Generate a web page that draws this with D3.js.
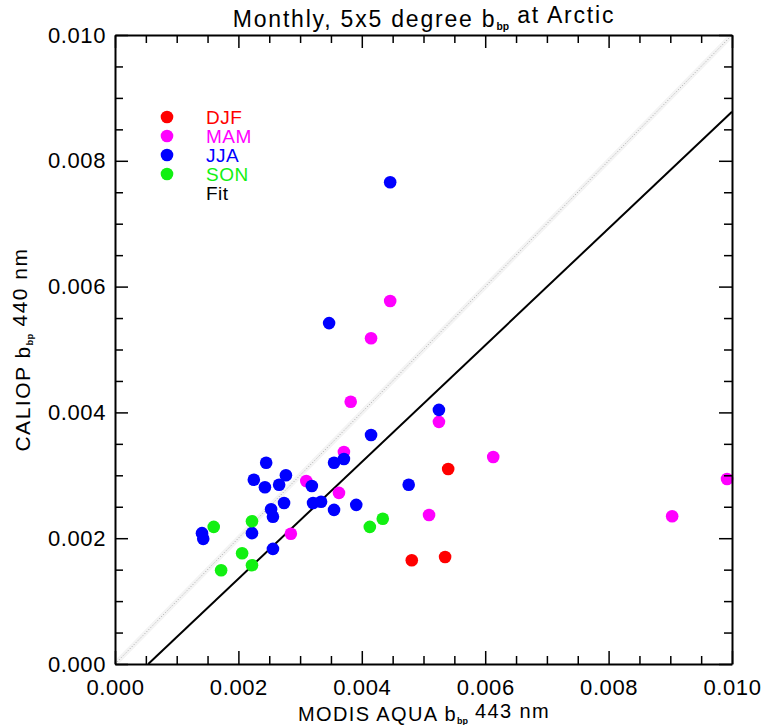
<!DOCTYPE html>
<html lang="en">
<head>
  <meta charset="UTF-8">
  <title>Monthly bbp Arctic</title>
  <script src="https://cdnjs.cloudflare.com/ajax/libs/d3/7.8.5/d3.min.js"></script>
  <style>
    body { margin: 0; background: #fff; }
    svg text { font-family: "Liberation Sans", Arial, sans-serif; }
    .frame path, .frame line { stroke: #000; }
  </style>
</head>
<body>
  <div id="graph"></div>
  <script>
    // seasonal points: [MODIS bbp 443, CALIOP bbp 440]
    var djf = [[0.00540, 0.00310], [0.00481, 0.00165], [0.00535, 0.00170]];
    var mam = [[0.00310, 0.00291], [0.00285, 0.00207], [0.00363, 0.00272], [0.00371, 0.00337],
               [0.00382, 0.00417], [0.00415, 0.00518], [0.00446, 0.00577], [0.00525, 0.00385],
               [0.00613, 0.00329], [0.00509, 0.00237], [0.00903, 0.00235], [0.00992, 0.00294]];
    var jja = [[0.00446, 0.00766], [0.00347, 0.00542], [0.00525, 0.00404], [0.00415, 0.00364],
               [0.00476, 0.00285], [0.00371, 0.00326], [0.00355, 0.00320], [0.00391, 0.00253],
               [0.00355, 0.00245], [0.00321, 0.00256], [0.00334, 0.00258], [0.00319, 0.00283],
               [0.00245, 0.00320], [0.00225, 0.00293], [0.00277, 0.00300], [0.00243, 0.00281],
               [0.00266, 0.00285], [0.00253, 0.00246], [0.00274, 0.00256], [0.00256, 0.00234],
               [0.00222, 0.00208], [0.00256, 0.00183], [0.00141, 0.00208], [0.00143, 0.00199]];
    var son = [[0.00160, 0.00218], [0.00222, 0.00227], [0.00206, 0.00176], [0.00172, 0.00149],
               [0.00222, 0.00157], [0.00413, 0.00218], [0.00434, 0.00231]];

    var seasons = ["DJF", "MAM", "JJA", "SON"];
    var seasonData = [djf, mam, jja, son];
    var seasonColors = ["#ff0000", "#ff00ff", "#0000ff", "#12f012"];

    // linear fit: caliop = slope * modis + offset
    var fitSlope = 0.928, fitOffset = -0.0005;

    var majorTicks = [0, 0.002, 0.004, 0.006, 0.008, 0.010];
    var minorTicks = d3.range(0, 0.01001, 0.0005).filter(function(v) {
      return Math.abs(v / 0.002 - Math.round(v / 0.002)) > 1e-6;
    });

    var margin = {top: 35, right: 33, bottom: 61, left: 115},
        width = 765 - margin.left - margin.right,
        height = 725 - margin.top - margin.bottom;

    var x = d3.scaleLinear().domain([0, 0.010]).range([0, width]);
    var y = d3.scaleLinear().domain([0, 0.010]).range([height, 0]);

    var svg = d3.select("#graph").append("svg")
        .attr("width", 765)
        .attr("height", 725);
    svg.append("rect").attr("width", 765).attr("height", 725).attr("fill", "#fff");

    var g = svg.append("g")
        .attr("transform", "translate(" + margin.left + "," + margin.top + ")");

    // 1:1 reference line
    g.append("line")
        .attr("x1", x(0)).attr("y1", y(0))
        .attr("x2", x(0.010)).attr("y2", y(0.010))
        .attr("stroke", "#f4f4f4").attr("stroke-width", 5);
    g.append("line")
        .attr("x1", x(0)).attr("y1", y(0))
        .attr("x2", x(0.010)).attr("y2", y(0.010))
        .attr("stroke", "#a8a8a8").attr("stroke-width", 1)
        .attr("stroke-dasharray", "1,2");

    // fit line, starting where it crosses zero
    var fitX0 = -fitOffset / fitSlope;
    g.append("line")
        .attr("x1", x(fitX0)).attr("y1", y(0))
        .attr("x2", x(0.010)).attr("y2", y(fitSlope * 0.010 + fitOffset))
        .attr("stroke", "#000").attr("stroke-width", 2);

    // points
    seasonData.forEach(function(data, i) {
      g.append("g").selectAll("circle")
        .data(data)
        .enter().append("circle")
          .attr("cx", function(d) { return x(d[0]); })
          .attr("cy", function(d) { return y(d[1]); })
          .attr("r", 6.3)
          .attr("fill", seasonColors[i]);
    });

    // axes on all four sides; negative tick sizes point the ticks inward
    function addAxis(axisFn, scale, tx, ty, padding) {
      var withLabels = padding > 0;
      var major = axisFn(scale).tickValues(majorTicks).tickSizeInner(-13).tickSizeOuter(0)
          .tickPadding(padding)
          .tickFormat(withLabels ? d3.format(".3f") : "");
      var minor = axisFn(scale).tickValues(minorTicks).tickSizeInner(-8).tickSizeOuter(0)
          .tickFormat("");
      var ax = g.append("g").attr("class", "frame")
          .attr("transform", "translate(" + tx + "," + ty + ")");
      ax.call(major);
      ax.append("g").call(minor).select(".domain").remove();
      ax.selectAll("line").attr("stroke-width", 1.5);
      ax.selectAll(".domain").attr("stroke-width", 2);
      ax.selectAll("text").attr("fill", "#000")
        .style("font-size", "22px").style("letter-spacing", "0.6px");
      return ax;
    }
    addAxis(d3.axisBottom, x, 0, height, 15);
    addAxis(d3.axisTop, x, 0, 0, 0);
    addAxis(d3.axisLeft, y, 0, 0, 9);
    addAxis(d3.axisRight, y, width, 0, 0);

    // text with a "bp" subscript
    function subText(sel, before, after, size) {
      sel.append("tspan").text(before);
      sel.append("tspan").text("bp")
          .attr("dy", "0.3em").style("letter-spacing", "0px")
          .style("font-size", (size * 0.45) + "px").style("font-weight", "bold");
      sel.append("tspan").text(after).attr("dy", "-0.3em");
      return sel;
    }

    subText(svg.append("text")
        .attr("x", 424).attr("y", 27)
        .attr("text-anchor", "middle")
        .style("font-size", "23px").style("letter-spacing", "1.8px"),
        "Monthly, 5x5 degree b", " at Arctic", 23);

    subText(svg.append("text")
        .attr("x", 424).attr("y", 721)
        .attr("text-anchor", "middle")
        .style("font-size", "20px").style("letter-spacing", "1.4px"),
        "MODIS AQUA b", " 443 nm", 20);

    subText(svg.append("text")
        .attr("transform", "translate(30," + (margin.top + height / 2) + ") rotate(-90)")
        .attr("text-anchor", "middle")
        .style("font-size", "21px").style("letter-spacing", "1.5px"),
        "CALIOP b", " 440 nm", 21);

    // legend
    var legendY = d3.scaleLinear().domain([0, 1]).range([117, 136]);
    var legendNames = seasons.concat(["Fit"]);
    var legendColors = seasonColors.concat(["#000"]);
    var legend = svg.append("g");
    seasons.forEach(function(name, i) {
      legend.append("circle")
        .attr("cx", 167).attr("cy", legendY(i)).attr("r", 6.3)
        .attr("fill", seasonColors[i]);
    });
    legendNames.forEach(function(name, i) {
      legend.append("text")
        .attr("x", 206).attr("y", legendY(i) + 7)
        .attr("fill", legendColors[i])
        .style("font-size", "19px").style("letter-spacing", "0.5px")
        .text(name);
    });
  </script>
</body>
</html>
